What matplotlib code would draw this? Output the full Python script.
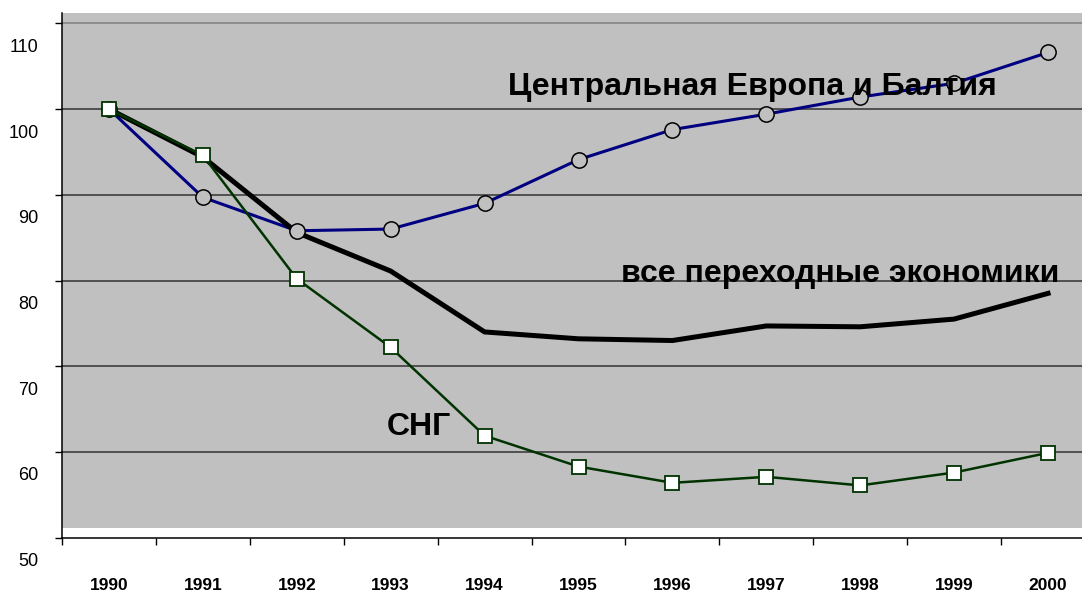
import matplotlib
matplotlib.use('Agg')
import matplotlib.pyplot as plt
import matplotlib.transforms as mtransforms
import numpy as np

years = ['1990', '1991', '1992', '1993', '1994', '1995', '1996', '1997', '1998', '1999', '2000']
ceb = [100, 89.7, 85.8, 86.0, 89.0, 94.1, 97.6, 99.4, 101.4, 103.0, 106.6]
all_trans = [100, 94.4, 85.6, 81.1, 74.0, 73.2, 73.0, 74.7, 74.6, 75.5, 78.5]
cis = [100, 94.6, 80.2, 72.2, 61.9, 58.3, 56.4, 57.1, 56.1, 57.6, 59.9]
y_ticks = [50, 60, 70, 80, 90, 100, 110]

plt.rcParams['font.family'] = ['Liberation Sans', 'DejaVu Sans']

fig = plt.figure(figsize=(10.82, 5.91), dpi=100)
ax = fig.add_axes([62 / 1082, 53.3 / 591, (1095 - 62) / 1082, 514.4 / 591])
ax.set_facecolor('none')

x = np.arange(len(years))

# gray plot area, shifted a bit relative to the value axis like in the original
ax.axhspan(51.1, 111.2, color='#c0c0c0', zorder=0, clip_on=False, lw=0)
for v in y_ticks[1:]:
    ax.axhline(v, color='#808080' if v == 110 else '#333333', lw=1.1, zorder=1, clip_on=False)

ax.plot(x, ceb, color='#000080', lw=2.2, zorder=3)
ax.plot(x, all_trans, color='black', lw=3.6, zorder=4, solid_joinstyle='miter')
ax.plot(x, cis, color='#003300', lw=1.8, zorder=5)
ax.plot(x, ceb, ls='none', marker='o', ms=11, mfc='#c0c0c0', mec='black', mew=1.1, zorder=6)
ax.plot(x, cis, ls='none', marker='s', ms=10, mfc='white', mec='#003300', mew=1.3, zorder=7)

ax.set_xlim(-0.5, 10.5)
ax.set_ylim(50, 110)

ax.set_xticks(np.arange(-0.5, 11, 1))
ax.set_xticklabels([])
ax.set_xticks(x, minor=True)
ax.set_xticklabels(years, minor=True, fontweight='bold', fontsize=12.5)
ax.tick_params(axis='x', which='major', length=5, width=1, direction='out')
ax.tick_params(axis='x', which='minor', length=0, pad=29)

ax.set_yticks(y_ticks)
ax.set_yticklabels([str(v) for v in y_ticks], fontsize=13)
ax.tick_params(axis='y', length=5, width=1, direction='out', pad=12)
shift = mtransforms.ScaledTranslation(0, -22 / 100, fig.dpi_scale_trans)
for lbl in ax.get_yticklabels():
    lbl.set_transform(lbl.get_transform() + shift)

for s in ['top', 'right']:
    ax.spines[s].set_visible(False)
ax.spines['left'].set_linewidth(1.1)
ax.spines['bottom'].set_linewidth(1.1)
ax.spines['left'].set_bounds(50, 111.2)

ax.text(4.244, 101.6, 'Центральная Европа и Балтия', fontsize=23, fontweight='bold',
        ha='left', va='baseline', zorder=8)
ax.text(5.456, 79.8, 'все переходные экономики', fontsize=23, fontweight='bold',
        ha='left', va='baseline', zorder=8)
ax.text(2.954, 61.93, 'СНГ', fontsize=23, fontweight='bold', ha='left', va='baseline', zorder=8)

fig.savefig('out.png', dpi=100)
